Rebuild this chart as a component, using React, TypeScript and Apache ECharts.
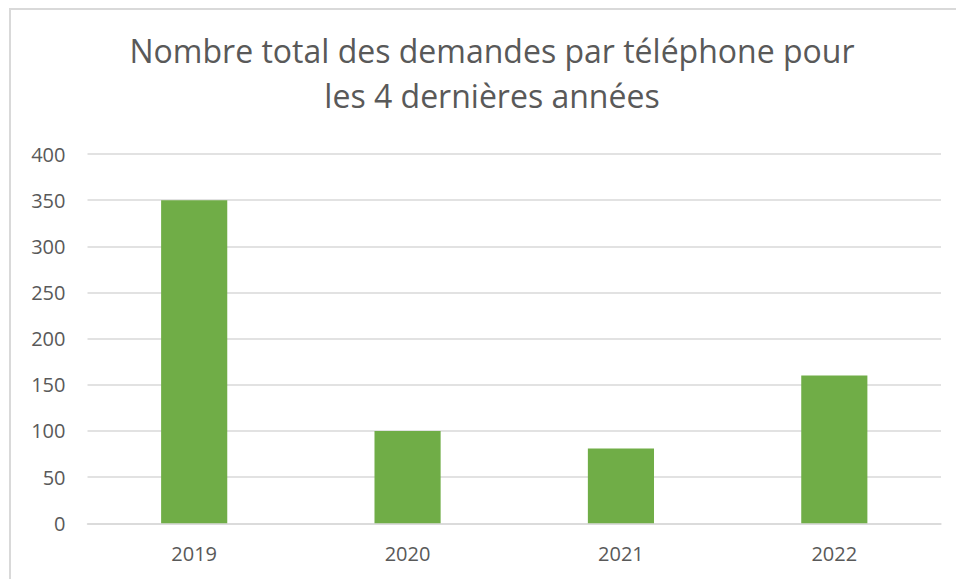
import React, { useEffect, useRef } from "react";
import * as echarts from "echarts";

const titleLines = ["Nombre total des demandes par téléphone pour", "les 4 dernières années"];
const categories = ["2019", "2020", "2021", "2022"];
const values = [350, 100, 81, 160];
const yTicks = { min: 0, max: 400, interval: 50 };

export default function App() {
  const ref = useRef<HTMLDivElement>(null);
  useEffect(() => {
    if (!ref.current) return;
    const chart = echarts.init(ref.current, null, { renderer: "svg" });
    chart.setOption({
      animation: false,
      backgroundColor: "#ffffff",
      title: {
        text: titleLines.join("\n"),
        left: 487,
        textAlign: "center",
        top: 23,
        textStyle: {
          fontFamily: "Open Sans",
          fontSize: 32,
          fontWeight: "normal",
          color: "#595959",
          lineHeight: 45,
        },
      },
      graphic: [
        { type: "line", shape: { x1: 9, y1: 9, x2: 956, y2: 9 }, style: { stroke: "#d9d9d9", lineWidth: 2 } },
        { type: "line", shape: { x1: 10, y1: 9, x2: 10, y2: 579 }, style: { stroke: "#d9d9d9", lineWidth: 2 } },
      ],
      grid: { left: 87.5, right: 15, top: 154, bottom: 55.7 },
      xAxis: {
        type: "category",
        data: categories,
        axisLine: { show: true, lineStyle: { color: "#d9d9d9", width: 1.5 } },
        axisTick: { show: false },
        axisLabel: { color: "#595959", fontFamily: "Open Sans", fontSize: 20, margin: 20 },
      },
      yAxis: {
        type: "value",
        min: yTicks.min,
        max: yTicks.max,
        interval: yTicks.interval,
        axisLine: { show: false },
        axisTick: { show: false },
        splitLine: { lineStyle: { color: "#d9d9d9", width: 1.5 } },
        axisLabel: { color: "#595959", fontFamily: "Open Sans", fontSize: 20, margin: 22 },
      },
      series: [
        {
          type: "bar",
          data: values,
          barWidth: "31%",
          itemStyle: { color: "#70ad47" },
        },
      ],
    });
    return () => chart.dispose();
  }, []);
  return (
    <div
      ref={ref}
      style={{ position: "absolute", left: 0, top: 0, width: 956, height: 579 }}
    />
  );
}
